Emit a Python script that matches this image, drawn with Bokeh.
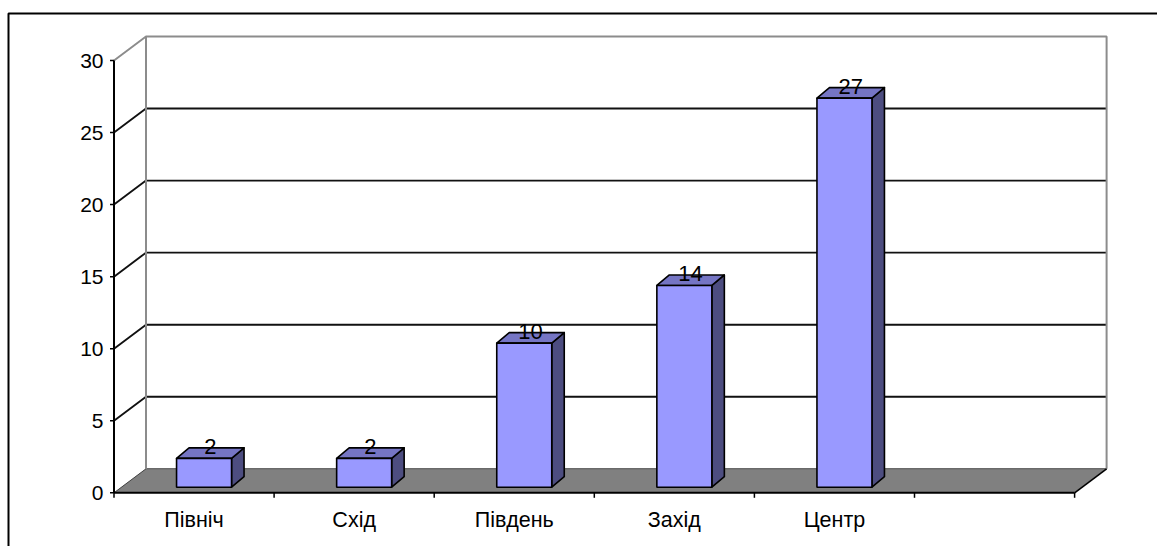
from bokeh.plotting import figure
from bokeh.models import Range1d, ColumnDataSource
from bokeh.core.properties import value
from bokeh.embed import file_html
from bokeh.resources import INLINE

# ---- data -------------------------------------------------------------
categories = ["Північ", "Схід", "Південь", "Захід", "Центр"]
counts = [2, 2, 10, 14, 27]
y_ticks = [0, 5, 10, 15, 20, 25, 30]
y_max = 30

# ---- layout (pixels) --------------------------------------------------
W, H = 1157, 546
ORIGIN_X, ORIGIN_Y = 113.5, 492.3     # front corner of the value axis
SLOT_PX = 160.1                       # width of one category slot
UNIT_PX = 14.41                       # pixels per value unit
N_SLOTS = len(categories) + 1         # the axis keeps one empty slot on the right

FONT = "Liberation Sans"

def px_x(d):
    return d / SLOT_PX

def px_y(d):
    return d / UNIT_PX

# oblique depth of the walls and floor
DX, DY = px_x(32), px_y(24)
# bar geometry
BAR_W = px_x(55)
BAR_OX, BAR_OY = px_x(10), px_y(5.6)
BAR_DX, BAR_DY = px_x(12.5), px_y(10.5)

p = figure(
    width=W, height=H,
    x_range=Range1d(-ORIGIN_X / SLOT_PX, (W - ORIGIN_X) / SLOT_PX),
    y_range=Range1d(-(H - ORIGIN_Y) / UNIT_PX, ORIGIN_Y / UNIT_PX),
    x_axis_type=None, y_axis_type=None,
    toolbar_location=None, output_backend="svg",
    min_border=0, background_fill_color="white", border_fill_color="white",
)
p.outline_line_color = None
p.grid.visible = False

x_lo, x_hi = p.x_range.start, p.x_range.end
y_lo, y_hi = p.y_range.start, p.y_range.end

# ---- outer chart border ------------------------------------------------
bx = px_x(8 - ORIGIN_X)
by = px_y(ORIGIN_Y - 13)
p.line([bx, bx, x_hi + 1], [y_lo - 1, by, by], line_color="black", line_width=2)

# ---- floor ---------------------------------------------------------------
p.patch([0, N_SLOTS, N_SLOTS + DX, DX], [0, 0, DY, DY],
        fill_color="#808080", line_color=None)
p.line([DX, N_SLOTS + DX], [DY, DY], line_color="#6a6a6a", line_width=1.5)

# ---- back wall gridlines -------------------------------------------------
grid_vals = [v for v in y_ticks if 0 < v < y_max]
p.multi_line(
    xs=[[0, DX, N_SLOTS + DX] for _ in grid_vals],
    ys=[[v, v + DY, v + DY] for v in grid_vals],
    line_color="#111111", line_width=1.9,
)

# wall edges
p.line([0, DX, N_SLOTS + DX, N_SLOTS + DX],
       [y_max, y_max + DY, y_max + DY, DY],
       line_color="#8c8c8c", line_width=2)
p.line([DX, DX], [DY, y_max + DY], line_color="#8c8c8c", line_width=2)

# floor side edges and front edge
p.line([0, DX], [0, DY], line_color="#404040", line_width=1)
p.line([N_SLOTS, N_SLOTS + DX], [0, DY], line_color="black", line_width=1.6)
p.line([0, N_SLOTS], [0, 0], line_color="black", line_width=2)

# ---- value axis ------------------------------------------------------------
p.line([0, 0], [0, y_max], line_color="black", line_width=2)
p.segment(x0=[px_x(-4)] * len(y_ticks), y0=y_ticks,
          x1=[0] * len(y_ticks), y1=y_ticks,
          line_color="black", line_width=1.5)
p.text(x=[px_x(-10.5)] * len(y_ticks), y=y_ticks,
       text=[str(v) for v in y_ticks],
       text_align="right", text_baseline="middle",
       text_font=value(FONT), text_font_size="21px", text_color="black")

# ---- category axis ---------------------------------------------------------
bounds = list(range(N_SLOTS + 1))
p.segment(x0=bounds, y0=[0] * len(bounds),
          x1=bounds, y1=[px_y(-5)] * len(bounds),
          line_color="black", line_width=1.5)
centers = [i + 0.5 for i in range(len(categories))]
p.text(x=centers, y=[px_y(-26.7)] * len(categories), text=categories,
       text_align="center", text_baseline="middle",
       text_font=value(FONT), text_font_size="21.5px", text_color="black")

# ---- 3D columns ----------------------------------------------------------------
left = [c - BAR_W / 2 + BAR_OX for c in centers]
right = [l + BAR_W for l in left]
base = [BAR_OY] * len(counts)
top = [BAR_OY + v for v in counts]

src = ColumnDataSource(dict(left=left, right=right, bottom=base, top=top))

side_xs = [[r, r + BAR_DX, r + BAR_DX, r] for r in right]
side_ys = [[b, b + BAR_DY, t + BAR_DY, t] for b, t in zip(base, top)]
p.patches(side_xs, side_ys, fill_color="#4d4d80", line_color="black",
          line_width=1.6, line_join="round")

top_xs = [[l, r, r + BAR_DX, l + BAR_DX] for l, r in zip(left, right)]
top_ys = [[t, t, t + BAR_DY, t + BAR_DY] for t in top]
p.patches(top_xs, top_ys, fill_color="#7575c4", line_color="black",
          line_width=1.6, line_join="round")

p.quad(left="left", right="right", bottom="bottom", top="top", source=src,
       fill_color="#9999ff", line_color="black", line_width=1.6)

# value labels sit on the top face of each column
p.text(x=[(l + r) / 2 + BAR_DX / 2 for l, r in zip(left, right)],
       y=[t + px_y(11.5) for t in top],
       text=[str(v) for v in counts],
       text_align="center", text_baseline="middle",
       text_font=value(FONT), text_font_size="22px", text_color="black")

open("out.html", "w").write(file_html(p, INLINE))
